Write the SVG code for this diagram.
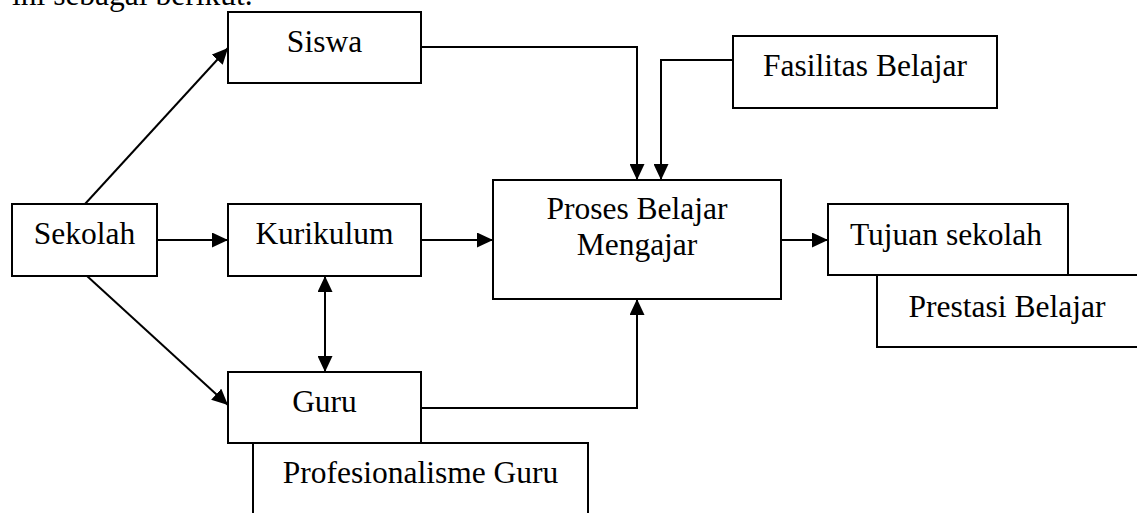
<svg xmlns="http://www.w3.org/2000/svg" width="1137" height="513" viewBox="0 0 1137 513">
<defs>
<marker id="ah" viewBox="0 0 16 15" refX="16" refY="7.5" markerWidth="16" markerHeight="15" markerUnits="userSpaceOnUse" orient="auto-start-reverse">
<path d="M0,0 L16,7.5 L0,15 z" fill="#000"/>
</marker>
<style>
.box{fill:#fff;stroke:#000;stroke-width:2}
.lbl{font-family:"Liberation Serif","Times New Roman",serif;font-size:31.5px;fill:#000;text-anchor:middle}
.cn{fill:none;stroke:#000;stroke-width:2}
</style>
</defs>
<rect width="1137" height="513" fill="#fff"/>
<text x="12" y="5" class="lbl" style="text-anchor:start">ini sebagai berikut.</text>
<g id="connectors">
<path class="cn" d="M85,204 L228,48" marker-end="url(#ah)"/>
<path class="cn" d="M87,276 L228,405" marker-end="url(#ah)"/>
<path class="cn" d="M157,240 L228,240" marker-end="url(#ah)"/>
<path class="cn" d="M421,240 L493,240" marker-end="url(#ah)"/>
<path class="cn" d="M781,240 L828,240" marker-end="url(#ah)"/>
<path class="cn" d="M325,276 L325,372" marker-start="url(#ah)" marker-end="url(#ah)"/>
<path class="cn" d="M421,47 L637,47 L637,180" marker-end="url(#ah)"/>
<path class="cn" d="M733,60 L661,60 L661,180" marker-end="url(#ah)"/>
<path class="cn" d="M421,408 L637,408 L637,299" marker-end="url(#ah)"/>
</g>
<g id="siswa"><rect class="box" x="228" y="12" width="193" height="71"/><text class="lbl" x="324.5" y="52">Siswa</text></g>
<g id="fasilitas"><rect class="box" x="733" y="36" width="264" height="72"/><text class="lbl" x="865" y="76">Fasilitas Belajar</text></g>
<g id="sekolah"><rect class="box" x="12" y="204" width="145" height="72"/><text class="lbl" x="84.5" y="244">Sekolah</text></g>
<g id="kurikulum"><rect class="box" x="228" y="204" width="193" height="72"/><text class="lbl" x="324.5" y="244">Kurikulum</text></g>
<g id="proses"><rect class="box" x="493" y="180" width="288" height="119"/><text class="lbl" x="637" y="219">Proses Belajar</text><text class="lbl" x="637" y="255">Mengajar</text></g>
<g id="tujuan"><rect class="box" x="828" y="204" width="240" height="71"/><text class="lbl" x="946" y="245">Tujuan sekolah</text></g>
<g id="prestasi"><rect class="box" x="877" y="275" width="270" height="72"/><text class="lbl" x="1007" y="317">Prestasi Belajar</text></g>
<g id="guru"><rect class="box" x="228" y="372" width="193" height="71"/><text class="lbl" x="324.5" y="412">Guru</text></g>
<g id="profesionalisme"><rect class="box" x="253" y="443" width="335" height="80"/><text class="lbl" x="420.5" y="483">Profesionalisme Guru</text></g>
</svg>
